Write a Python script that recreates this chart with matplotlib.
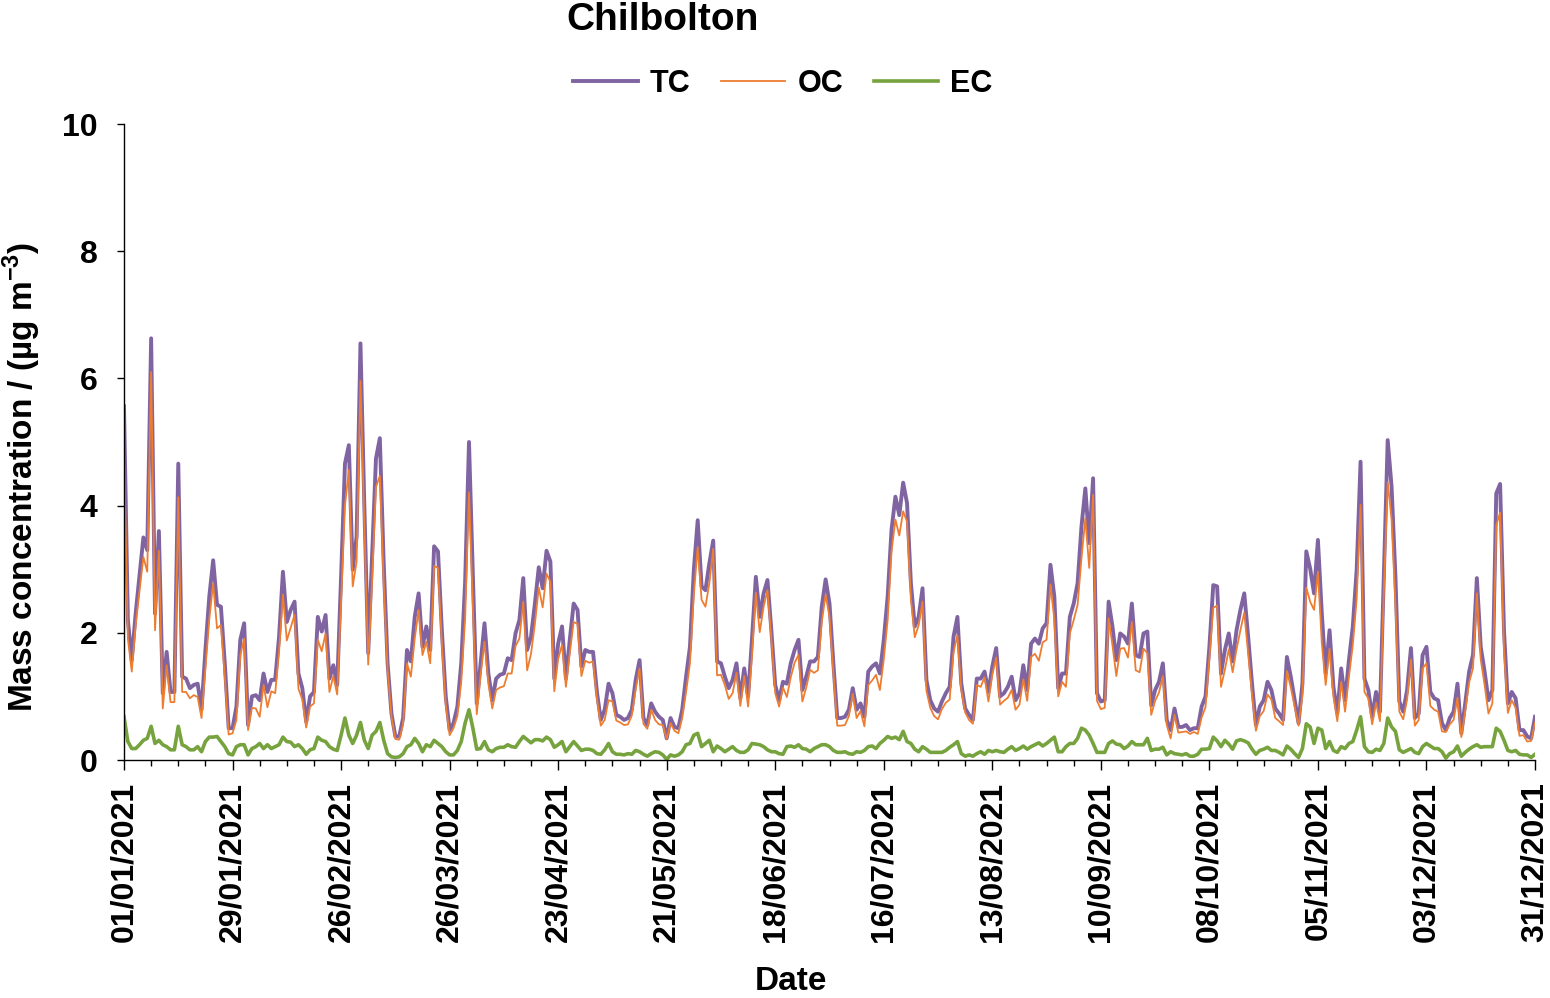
import numpy as np
import pandas as pd
import matplotlib
matplotlib.use("Agg")
import matplotlib.pyplot as plt
import matplotlib.dates as mdates
from matplotlib.ticker import FixedLocator

# Daily carbon mass concentrations at Chilbolton, 2021 (µg m-3)
dates = pd.date_range("2021-01-01", "2021-12-31", freq="D")

tc = [
    5.56, 2.2, 1.57, 2.3, 2.9, 3.5, 3.3, 6.63, 2.3, 3.6,
    1.05, 1.7, 1.07, 1.07, 4.66, 1.31, 1.28, 1.13, 1.18, 1.2,
    0.79, 1.73, 2.57, 3.14, 2.44, 2.41, 1.52, 0.5, 0.5, 0.84,
    1.89, 2.15, 0.55, 1.0, 1.02, 0.94, 1.36, 1.07, 1.26, 1.26,
    1.94, 2.96, 2.17, 2.36, 2.49, 1.36, 1.13, 0.6, 1.0, 1.07,
    2.25, 2.02, 2.28, 1.28, 1.49, 1.18, 2.88, 4.66, 4.95, 2.99,
    3.51, 6.55, 4.0, 1.68, 3.2, 4.74, 5.06, 3.09, 1.52, 0.73,
    0.37, 0.37, 0.66, 1.73, 1.55, 2.25, 2.62, 1.78, 2.1, 1.73,
    3.36, 3.28, 2.04, 1.0, 0.47, 0.58, 0.84, 1.52, 2.8, 5.0,
    2.9, 0.89, 1.52, 2.15, 1.36, 0.94, 1.28, 1.34, 1.36, 1.6,
    1.57, 1.99, 2.2, 2.86, 1.73, 1.94, 2.46, 3.03, 2.7, 3.29,
    3.12, 1.28, 1.83, 2.1, 1.28, 1.89, 2.46, 2.36, 1.47, 1.73,
    1.7, 1.7, 1.07, 0.63, 0.79, 1.2, 1.05, 0.71, 0.68, 0.63,
    0.66, 0.79, 1.26, 1.57, 0.66, 0.55, 0.89, 0.76, 0.68, 0.63,
    0.34, 0.66, 0.52, 0.5, 0.79, 1.31, 1.78, 2.99, 3.77, 2.73,
    2.67, 3.09, 3.45, 1.55, 1.52, 1.31, 1.13, 1.26, 1.52, 0.97,
    1.44, 1.0, 1.9, 2.88, 2.25, 2.62, 2.83, 2.04, 1.18, 0.94,
    1.23, 1.2, 1.52, 1.73, 1.89, 1.1, 1.31, 1.55, 1.55, 1.62,
    2.41, 2.84, 2.46, 1.52, 0.66, 0.66, 0.68, 0.79, 1.13, 0.79,
    0.89, 0.68, 1.39, 1.47, 1.52, 1.36, 1.89, 2.57, 3.62, 4.14,
    3.85, 4.36, 4.04, 2.78, 2.1, 2.25, 2.7, 1.26, 0.94, 0.81,
    0.76, 0.92, 1.05, 1.15, 1.94, 2.25, 1.2, 0.81, 0.71, 0.63,
    1.28, 1.28, 1.39, 1.07, 1.47, 1.76, 1.0, 1.05, 1.15, 1.31,
    0.94, 1.05, 1.49, 1.1, 1.83, 1.91, 1.83, 2.07, 2.15, 3.07,
    2.57, 1.13, 1.36, 1.36, 2.25, 2.46, 2.78, 3.67, 4.27, 3.41,
    4.43, 1.05, 0.92, 0.94, 2.49, 2.1, 1.57, 1.99, 1.94, 1.83,
    2.46, 1.65, 1.62, 1.99, 2.02, 0.86, 1.1, 1.23, 1.52, 0.63,
    0.47, 0.81, 0.52, 0.52, 0.55, 0.47, 0.5, 0.5, 0.84, 1.0,
    1.78, 2.75, 2.73, 1.36, 1.73, 1.99, 1.55, 2.04, 2.36, 2.62,
    1.94, 1.2, 0.55, 0.84, 0.94, 1.23, 1.1, 0.81, 0.73, 0.63,
    1.62, 1.31, 0.94, 0.58, 1.2, 3.28, 3.01, 2.62, 3.46, 2.31,
    1.36, 2.04, 1.15, 0.73, 1.44, 0.94, 1.57, 2.1, 3.0, 4.69,
    1.28, 1.1, 0.68, 1.07, 0.76, 2.9, 5.03, 4.3, 2.88, 0.92,
    0.76, 1.1, 1.76, 0.66, 0.73, 1.65, 1.78, 1.07, 0.97, 0.94,
    0.58, 0.47, 0.66, 0.76, 1.2, 0.42, 0.89, 1.39, 1.65, 2.86,
    1.78, 1.39, 0.94, 1.1, 4.19, 4.34, 2.04, 0.89, 1.07, 0.97,
    0.47, 0.47, 0.37, 0.34, 0.68,
]

oc = [
    4.88, 1.91, 1.39, 2.12, 2.66, 3.19, 2.96, 6.10, 2.04, 3.29,
    0.81, 1.49, 0.91, 0.91, 4.13, 1.07, 1.07, 0.97, 1.02, 0.99,
    0.66, 1.44, 2.21, 2.78, 2.07, 2.12, 1.31, 0.40, 0.42, 0.63,
    1.65, 1.91, 0.47, 0.82, 0.81, 0.68, 1.18, 0.83, 1.08, 1.05,
    1.70, 2.60, 1.88, 2.08, 2.28, 1.12, 0.95, 0.51, 0.84, 0.89,
    1.89, 1.71, 1.99, 1.07, 1.32, 1.03, 2.49, 4.00, 4.56, 2.73,
    3.12, 5.96, 3.69, 1.50, 2.81, 4.29, 4.47, 2.78, 1.42, 0.68,
    0.33, 0.32, 0.56, 1.52, 1.31, 1.91, 2.36, 1.65, 1.86, 1.52,
    3.05, 3.02, 1.83, 0.87, 0.39, 0.50, 0.69, 1.23, 2.22, 4.21,
    2.40, 0.72, 1.34, 1.86, 1.20, 0.81, 1.10, 1.14, 1.16, 1.36,
    1.36, 1.79, 1.91, 2.49, 1.41, 1.67, 2.14, 2.71, 2.40, 2.93,
    2.80, 1.08, 1.59, 1.81, 1.15, 1.68, 2.17, 2.14, 1.32, 1.56,
    1.53, 1.55, 0.97, 0.54, 0.63, 0.94, 0.92, 0.62, 0.59, 0.55,
    0.56, 0.70, 1.11, 1.44, 0.57, 0.49, 0.79, 0.63, 0.56, 0.55,
    0.33, 0.58, 0.46, 0.42, 0.66, 1.07, 1.52, 2.60, 3.35, 2.52,
    2.41, 2.78, 3.32, 1.33, 1.34, 1.18, 0.96, 1.05, 1.37, 0.85,
    1.32, 0.84, 1.64, 2.63, 2.01, 2.41, 2.67, 1.91, 1.05, 0.84,
    1.14, 0.99, 1.30, 1.53, 1.65, 0.92, 1.14, 1.42, 1.37, 1.41,
    2.17, 2.60, 2.25, 1.37, 0.54, 0.54, 0.55, 0.69, 1.04, 0.66,
    0.77, 0.53, 1.18, 1.25, 1.34, 1.10, 1.58, 2.20, 3.28, 3.78,
    3.53, 3.91, 3.75, 2.52, 1.93, 2.12, 2.49, 1.09, 0.82, 0.69,
    0.64, 0.80, 0.90, 0.95, 1.70, 1.96, 1.10, 0.75, 0.63, 0.57,
    1.18, 1.15, 1.30, 0.92, 1.34, 1.61, 0.87, 0.93, 0.98, 1.10,
    0.79, 0.87, 1.27, 0.93, 1.62, 1.67, 1.56, 1.85, 1.89, 2.76,
    2.21, 1.00, 1.23, 1.15, 1.99, 2.20, 2.44, 3.17, 3.80, 3.02,
    4.17, 0.93, 0.80, 0.82, 2.23, 1.80, 1.32, 1.75, 1.76, 1.61,
    2.17, 1.41, 1.38, 1.75, 1.68, 0.71, 0.93, 1.06, 1.32, 0.55,
    0.34, 0.71, 0.43, 0.44, 0.45, 0.41, 0.44, 0.41, 0.67, 0.83,
    1.60, 2.39, 2.43, 1.15, 1.42, 1.74, 1.38, 1.74, 2.04, 2.32,
    1.67, 1.03, 0.46, 0.69, 0.77, 1.03, 0.95, 0.66, 0.61, 0.55,
    1.40, 1.14, 0.84, 0.54, 1.02, 2.71, 2.49, 2.36, 2.96, 1.84,
    1.18, 1.75, 1.00, 0.61, 1.23, 0.76, 1.31, 1.81, 2.53, 4.01,
    1.07, 0.97, 0.56, 0.90, 0.61, 2.64, 4.37, 3.78, 2.43, 0.76,
    0.64, 0.95, 1.58, 0.54, 0.63, 1.44, 1.52, 0.85, 0.79, 0.76,
    0.45, 0.44, 0.56, 0.63, 0.98, 0.36, 0.77, 1.22, 1.44, 2.62,
    1.58, 1.18, 0.73, 0.89, 3.69, 3.89, 1.73, 0.74, 0.94, 0.82,
    0.38, 0.39, 0.29, 0.30, 0.59,
]

ec = [
    0.68, 0.29, 0.18, 0.18, 0.24, 0.31, 0.34, 0.53, 0.26, 0.31,
    0.24, 0.21, 0.16, 0.16, 0.53, 0.24, 0.21, 0.16, 0.16, 0.21,
    0.13, 0.29, 0.36, 0.36, 0.37, 0.29, 0.21, 0.1, 0.08, 0.21,
    0.24, 0.24, 0.08, 0.18, 0.21, 0.26, 0.18, 0.24, 0.18, 0.21,
    0.24, 0.36, 0.29, 0.28, 0.21, 0.24, 0.18, 0.09, 0.16, 0.18,
    0.36, 0.31, 0.29, 0.21, 0.17, 0.15, 0.39, 0.66, 0.39, 0.26,
    0.39, 0.59, 0.31, 0.18, 0.39, 0.45, 0.59, 0.31, 0.1, 0.05,
    0.04, 0.05, 0.1, 0.21, 0.24, 0.34, 0.26, 0.13, 0.24, 0.21,
    0.31, 0.26, 0.21, 0.13, 0.08, 0.08, 0.15, 0.29, 0.58, 0.79,
    0.5, 0.17, 0.18, 0.29, 0.16, 0.13, 0.18, 0.2, 0.2, 0.24,
    0.21, 0.2, 0.29, 0.37, 0.32, 0.27, 0.32, 0.32, 0.3, 0.36,
    0.32, 0.2, 0.24, 0.29, 0.13, 0.21, 0.29, 0.22, 0.15, 0.17,
    0.17, 0.15, 0.1, 0.09, 0.16, 0.26, 0.13, 0.09, 0.09, 0.08,
    0.1, 0.09, 0.15, 0.13, 0.09, 0.06, 0.1, 0.13, 0.12, 0.08,
    0.01, 0.08, 0.06, 0.08, 0.13, 0.24, 0.26, 0.39, 0.42, 0.21,
    0.26, 0.31, 0.13, 0.22, 0.18, 0.13, 0.17, 0.21, 0.15, 0.12,
    0.12, 0.16, 0.26, 0.25, 0.24, 0.21, 0.16, 0.13, 0.13, 0.1,
    0.09, 0.21, 0.22, 0.2, 0.24, 0.18, 0.17, 0.13, 0.18, 0.21,
    0.24, 0.24, 0.21, 0.15, 0.12, 0.12, 0.13, 0.1, 0.09, 0.13,
    0.12, 0.15, 0.21, 0.22, 0.18, 0.26, 0.31, 0.37, 0.34, 0.36,
    0.32, 0.45, 0.29, 0.26, 0.17, 0.13, 0.21, 0.17, 0.12, 0.12,
    0.12, 0.12, 0.15, 0.2, 0.24, 0.29, 0.1, 0.06, 0.08, 0.06,
    0.1, 0.13, 0.09, 0.15, 0.13, 0.15, 0.13, 0.12, 0.17, 0.21,
    0.15, 0.18, 0.22, 0.17, 0.21, 0.24, 0.27, 0.22, 0.26, 0.31,
    0.36, 0.13, 0.13, 0.21, 0.26, 0.26, 0.34, 0.5, 0.47, 0.39,
    0.26, 0.12, 0.12, 0.12, 0.26, 0.3, 0.25, 0.24, 0.18, 0.22,
    0.29, 0.24, 0.24, 0.24, 0.34, 0.15, 0.17, 0.17, 0.2, 0.08,
    0.13, 0.1, 0.09, 0.08, 0.1, 0.06, 0.06, 0.09, 0.17, 0.17,
    0.18, 0.36, 0.3, 0.21, 0.31, 0.25, 0.17, 0.3, 0.32, 0.3,
    0.27, 0.17, 0.09, 0.15, 0.17, 0.2, 0.15, 0.15, 0.12, 0.08,
    0.22, 0.17, 0.1, 0.04, 0.18, 0.57, 0.52, 0.26, 0.5, 0.47,
    0.18, 0.29, 0.15, 0.12, 0.21, 0.18, 0.26, 0.29, 0.47, 0.68,
    0.21, 0.13, 0.12, 0.17, 0.15, 0.26, 0.66, 0.52, 0.45, 0.16,
    0.12, 0.15, 0.18, 0.12, 0.1, 0.21, 0.26, 0.22, 0.18, 0.18,
    0.13, 0.03, 0.1, 0.13, 0.22, 0.06, 0.12, 0.17, 0.21, 0.24,
    0.2, 0.21, 0.21, 0.21, 0.5, 0.45, 0.31, 0.15, 0.13, 0.15,
    0.09, 0.08, 0.08, 0.04, 0.09,
]

series_names = ["TC", "OC", "EC"]
y_ticks = [0, 2, 4, 6, 8, 10]

plt.rcParams["font.family"] = ["Liberation Sans", "DejaVu Sans"]
plt.rcParams["font.weight"] = "bold"
plt.rcParams["mathtext.fontset"] = "custom"
plt.rcParams["mathtext.rm"] = "Liberation Sans:bold"
plt.rcParams["mathtext.bf"] = "Liberation Sans:bold"

W, H = 1550, 998
fig = plt.figure(figsize=(W / 100, H / 100), dpi=100)
ax = fig.add_axes([124 / W, 1 - 760 / H, (1535 - 124) / W, (760 - 124) / H])

c_tc, c_oc, c_ec = "#8064A2", "#ED7D31", "#77A33E"
ax.plot(dates, tc, color=c_tc, lw=2.8, label=series_names[0], solid_joinstyle="round")
ax.plot(dates, oc, color=c_oc, lw=1.3, label=series_names[1], solid_joinstyle="round")
ax.plot(dates, ec, color=c_ec, lw=2.6, label=series_names[2], solid_joinstyle="round")

ax.set_xlim(dates[0], dates[-1])
ax.set_ylim(0, 10)
ax.set_yticks(y_ticks)
ax.xaxis.set_major_locator(FixedLocator(mdates.date2num(dates[::28])))
ax.xaxis.set_minor_locator(FixedLocator(mdates.date2num(dates[::7])))
ax.xaxis.set_major_formatter(mdates.DateFormatter("%d/%m/%Y"))

for s in ("top", "right"):
    ax.spines[s].set_visible(False)
for s in ("left", "bottom"):
    ax.spines[s].set_linewidth(1.0)
    ax.spines[s].set_color("black")

ax.tick_params(axis="y", direction="out", length=5, width=1.0, pad=14, labelsize=23)
ax.tick_params(axis="x", which="major", direction="out", length=7, width=1.0, pad=9,
               labelsize=23, labelrotation=90)
ax.tick_params(axis="x", which="minor", direction="out", length=4.5, width=1.0)
for lab in ax.get_xticklabels() + ax.get_yticklabels():
    lab.set_fontweight("bold")

fig.text(663 / W, 1 - 20 / H, "Chilbolton", ha="center", va="center",
         fontsize=28, fontweight="bold")
fig.text(22 / W, 1 - 477 / H, r"Mass concentration / (µg m$^{\mathbf{-3}}$)",
         rotation=90, ha="center", va="center", fontsize=24, fontweight="bold")
fig.text(791 / W, 1 - 982 / H, "Date", ha="center", va="center",
         fontsize=24, fontweight="bold")

fig.legend(loc="center", bbox_to_anchor=(783 / W, 1 - 84 / H), ncol=3, frameon=False,
           prop={"size": 22, "weight": "bold"}, handlelength=2.1, handletextpad=0.4,
           columnspacing=1.0)

fig.savefig("out.png", dpi=100)
